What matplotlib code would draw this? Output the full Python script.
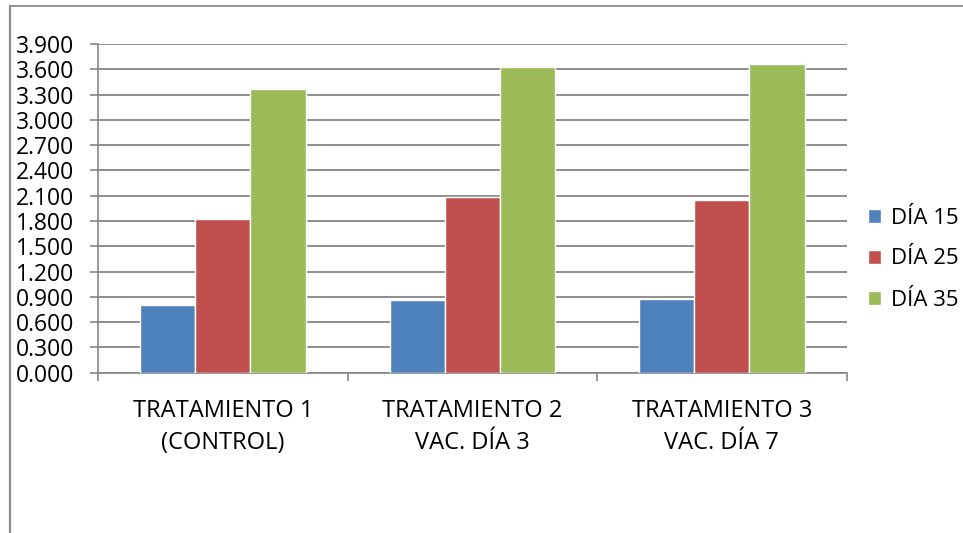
import matplotlib
matplotlib.use("Agg")
import matplotlib.pyplot as plt
import numpy as np
from matplotlib.lines import Line2D
from matplotlib.ticker import FuncFormatter, FixedLocator

categorias = ["TRATAMIENTO 1\n(CONTROL)", "TRATAMIENTO 2\nVAC. DÍA 3", "TRATAMIENTO 3\nVAC. DÍA 7"]
series = ["DÍA 15", "DÍA 25", "DÍA 35"]
dia_15 = [0.80, 0.865, 0.875]
dia_25 = [1.82, 2.09, 2.055]
dia_35 = [3.365, 3.63, 3.665]
colores = ["#4F81BD", "#C0504D", "#9BBB59"]

plt.rcParams["font.family"] = ["Open Sans", "DejaVu Sans"]
GRIS = "#868686"

fig = plt.figure(figsize=(9.63, 5.33), dpi=100)
W, H = 963, 533
ax = fig.add_axes([98 / W, (H - 372.7) / H, (846.7 - 98) / W, (372.7 - 44) / H])

x = np.arange(len(categorias))
ancho = 0.221
for i, (vals, nombre) in enumerate(zip([dia_15, dia_25, dia_35], series)):
    ax.bar(x + (i - 1) * ancho, vals, width=ancho, color=colores[i],
           edgecolor="white", linewidth=1.0, label=nombre, zorder=3)

ax.set_ylim(0, 3.9)
ax.set_xlim(-0.5, len(categorias) - 0.5)
ax.set_yticks(np.arange(0, 3.91, 0.3))
ax.yaxis.set_major_formatter(FuncFormatter(lambda v, p: f"{v:.3f}"))
ax.grid(axis="y", color=GRIS, linewidth=1.3, zorder=0)

ax.xaxis.set_major_locator(FixedLocator(np.arange(-0.5, len(categorias), 1.0)))
ax.xaxis.set_major_formatter(FuncFormatter(lambda v, p: ""))
ax.set_xticks(x, minor=True)
ax.set_xticklabels(categorias, minor=True, fontsize=17, linespacing=1.45)
ax.tick_params(axis="x", which="minor", length=0, pad=19)
ax.tick_params(axis="x", which="major", length=6, width=1.2, color=GRIS)
ax.tick_params(axis="y", length=6, width=1.2, color=GRIS, labelsize=16.5, pad=11)

for s in ["top", "right"]:
    ax.spines[s].set_visible(False)
for s in ["left", "bottom"]:
    ax.spines[s].set_color(GRIS)
    ax.spines[s].set_linewidth(1.2)

fig.legend(loc="center left", bbox_to_anchor=(868 / W, (H - 259) / H),
           frameon=False, fontsize=16, handlelength=0.6, handleheight=0.6,
           handletextpad=0.45, labelspacing=0.9, borderaxespad=0, borderpad=0)

# borde del area del grafico
fig.add_artist(Line2D([9.5 / W, 1], [(H - 6) / H] * 2, color="#8C8C8C", lw=1.3))
fig.add_artist(Line2D([9.5 / W] * 2, [0, (H - 6) / H], color="#8C8C8C", lw=1.6))

fig.savefig("out.png", dpi=100)
